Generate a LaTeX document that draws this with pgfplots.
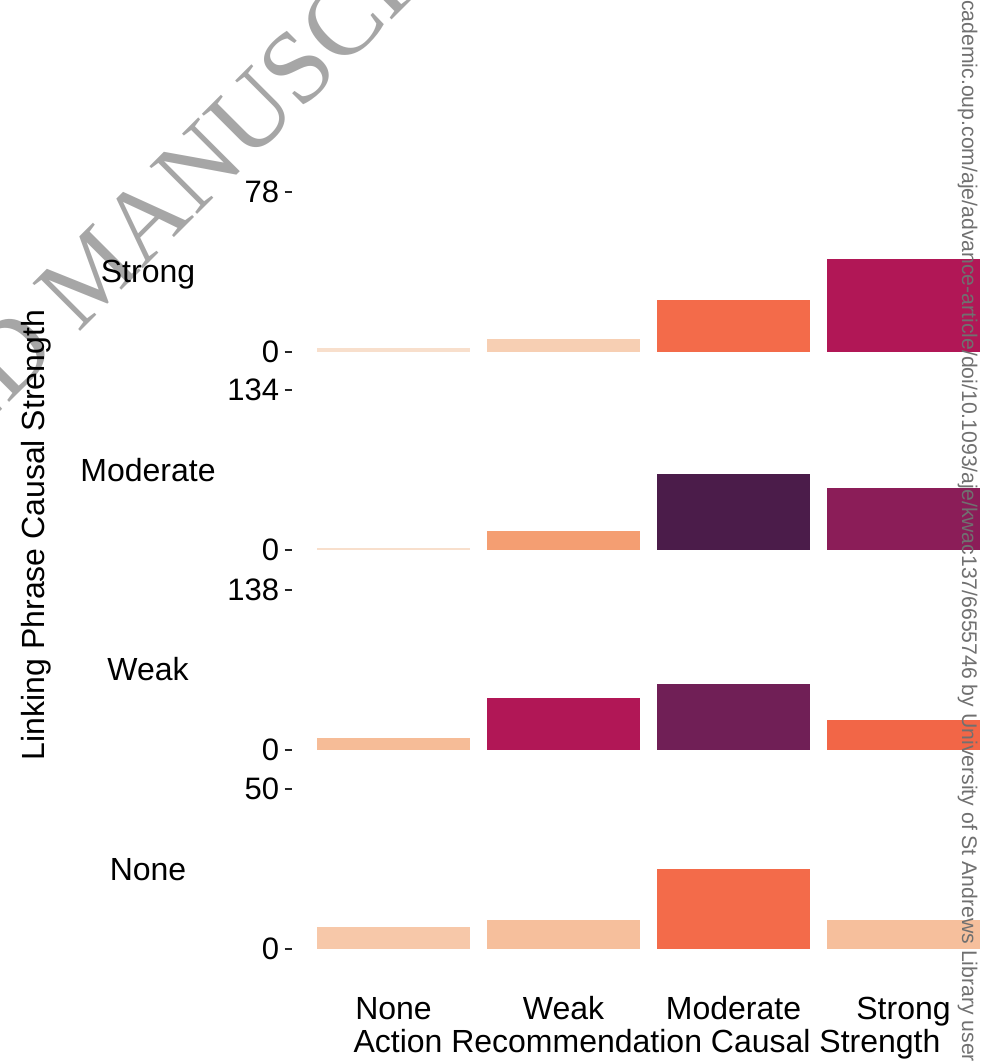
\documentclass[border=0pt]{standalone}
\usepackage{pgfplots}
\pgfplotsset{compat=1.18}
\usepackage{fontspec}
\setmainfont{Liberation Sans}
\newfontfamily\wmfont{Liberation Serif}

% fill colours, one per count (light = few, dark = many)
\definecolor{c02}{HTML}{F8DFCC}
\definecolor{c06}{HTML}{F7CFB3}
\definecolor{c07}{HTML}{F7C8A9}
\definecolor{c09}{HTML}{F6BF9C}
\definecolor{c10}{HTML}{F6BC97}
\definecolor{c16}{HTML}{F49E72}
\definecolor{c25}{HTML}{F36B4A}
\definecolor{c26}{HTML}{F26647}
\definecolor{c45}{HTML}{B11756}
\definecolor{c52}{HTML}{8B1D58}
\definecolor{c57}{HTML}{701F56}
\definecolor{c64}{HTML}{4B1C4A}
\definecolor{wmgray}{HTML}{A6A6A6}
\definecolor{sidegray}{HTML}{707070}

\newcommand{\tickfont}{\fontsize{15.5}{17}\selectfont}
\newcommand{\labfont}{\fontsize{16}{18}\selectfont}

\pgfplotsset{
  panel/.style={
    scale only axis, width=357pt, height=80pt,
    anchor=south west,
    xmin=0.4, xmax=4.6, ymin=0,
    axis lines*=left,
    axis line style={draw=none},
    ybar, bar width=76.25pt, bar shift=0pt,
    tick align=outside,
    major tick length=3.5pt,
    major x tick style={draw=none},
    ytick style={draw=black!85, line width=1.1pt},
    /pgf/number format/assume math mode=true,
    ticklabel style={font=\tickfont},
    yticklabel style={anchor=east, inner sep=0pt, xshift=-2.5pt},
    xtick=\empty,
    every axis plot/.append style={draw=none},
  },
}

\begin{document}
\begin{tikzpicture}[x=0.5pt,y=0.5pt]
\useasboundingbox (0,0) rectangle (989,1063);

% watermark
\node[rotate=45, anchor=base west, inner sep=0pt, text=wmgray,
      font=\wmfont\fontsize{51.5}{52}\selectfont]
  at (-316.6,334.4) {ACCEPTED MANUSCRIPT};

% Strong
\begin{axis}[panel, at={(145.75pt,355.65pt)}, ymax=78, ytick={0,78}, yticklabels={0,78}]
\addplot[fill=c02] coordinates {(1,2)};
\addplot[fill=c06] coordinates {(2,6)};
\addplot[fill=c25] coordinates {(3,25)};
\addplot[fill=c45] coordinates {(4,45)};
\end{axis}

% Moderate
\begin{axis}[panel, at={(145.75pt,256.5pt)}, ymax=134, ytick={0,134}, yticklabels={0,134}]
\addplot[fill=c02] coordinates {(1,2)};
\addplot[fill=c16] coordinates {(2,16)};
\addplot[fill=c64] coordinates {(3,64)};
\addplot[fill=c52] coordinates {(4,52)};
\end{axis}

% Weak
\begin{axis}[panel, at={(145.75pt,156.5pt)}, ymax=138, ytick={0,138}, yticklabels={0,138}]
\addplot[fill=c10] coordinates {(1,10)};
\addplot[fill=c45] coordinates {(2,45)};
\addplot[fill=c57] coordinates {(3,57)};
\addplot[fill=c26] coordinates {(4,26)};
\end{axis}

% None
\begin{axis}[panel, at={(145.75pt,56.85pt)}, ymax=50, ytick={0,50}, yticklabels={0,50},
  xtick={1,2,3,4}, xticklabels={None,Weak,Moderate,Strong},
  xticklabel style={font=\labfont, anchor=base, inner sep=0pt, yshift=-31.35pt}]
\addplot[fill=c07] coordinates {(1,7)};
\addplot[fill=c09] coordinates {(2,9)};
\addplot[fill=c25] coordinates {(3,25)};
\addplot[fill=c09] coordinates {(4,9)};
\end{axis}

% facet strip labels and axis titles
\begin{scope}[every node/.style={anchor=base, inner sep=0pt, font=\labfont}]
\node at (148,780.4) {Strong};
\node at (148,581.6) {Moderate};
\node at (148,382.1) {Weak};
\node at (148,182.8) {None};
\node at (647,10.5) {Action Recommendation Causal Strength};
\node[rotate=90] at (44,528) {Linking Phrase Causal Strength};
\end{scope}

% download stamp along the right edge
\begin{scope}[every node/.style={rotate=-90, inner sep=0pt, text=sidegray,
      font=\fontsize{10.6}{12}\selectfont}]
\node[anchor=base east] at (962,1063) {Downloaded from https://a};
\node[anchor=base west] at (962,1063) {cademic.oup.com/aje/advance-article/doi/10.1093/aje/kwac137/6655746 by University of St Andrews Library user};
\end{scope}
\end{tikzpicture}
\end{document}
